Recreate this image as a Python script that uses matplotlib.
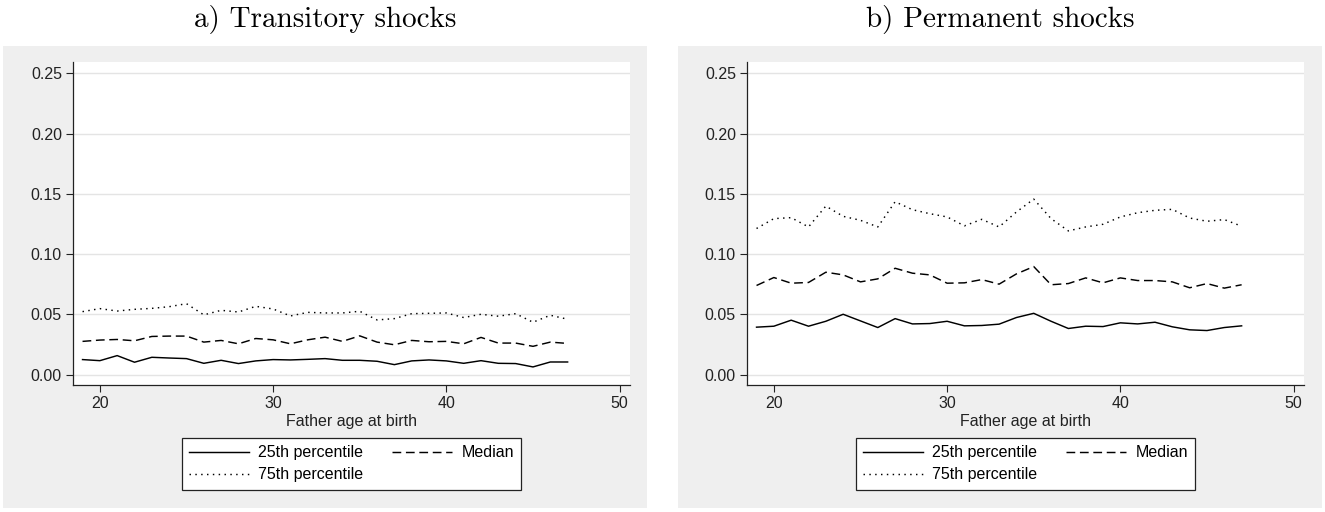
import numpy as np
import matplotlib
matplotlib.use("Agg")
import matplotlib.pyplot as plt
from matplotlib.patches import Rectangle

# %%
# percentiles of shock size by father's age at birth
ages = np.arange(19, 48)

trans_p25 = [0.0124, 0.0115, 0.0157, 0.0102, 0.0143, 0.0137, 0.0132, 0.0093, 0.0118, 0.0091,
             0.0113, 0.0124, 0.0121, 0.0126, 0.0132, 0.0118, 0.0118, 0.0110, 0.0082, 0.0113,
             0.0121, 0.0113, 0.0093, 0.0115, 0.0093, 0.0091, 0.0063, 0.0104, 0.0104]
trans_p50 = [0.0275, 0.0286, 0.0291, 0.0280, 0.0316, 0.0319, 0.0319, 0.0269, 0.0283, 0.0255,
             0.0299, 0.0288, 0.0255, 0.0288, 0.0310, 0.0275, 0.0321, 0.0269, 0.0247, 0.0283,
             0.0272, 0.0275, 0.0255, 0.0308, 0.0261, 0.0261, 0.0234, 0.0269, 0.0258]
trans_p75 = [0.0522, 0.0547, 0.0527, 0.0541, 0.0549, 0.0563, 0.0588, 0.0495, 0.0533, 0.0519,
             0.0566, 0.0544, 0.0486, 0.0516, 0.0511, 0.0511, 0.0525, 0.0453, 0.0464, 0.0505,
             0.0508, 0.0511, 0.0473, 0.0500, 0.0484, 0.0505, 0.0434, 0.0492, 0.0459]

perm_p25 = [0.0393, 0.0401, 0.0451, 0.0401, 0.0442, 0.0500, 0.0445, 0.0390, 0.0464, 0.0420,
            0.0423, 0.0442, 0.0404, 0.0407, 0.0418, 0.0473, 0.0508, 0.0442, 0.0382, 0.0401,
            0.0398, 0.0429, 0.0420, 0.0434, 0.0396, 0.0371, 0.0365, 0.0390, 0.0404]
perm_p50 = [0.0739, 0.0805, 0.0758, 0.0764, 0.0849, 0.0827, 0.0769, 0.0794, 0.0882, 0.0841,
            0.0827, 0.0758, 0.0761, 0.0788, 0.0750, 0.0835, 0.0896, 0.0745, 0.0755, 0.0802,
            0.0761, 0.0802, 0.0780, 0.0780, 0.0769, 0.0720, 0.0755, 0.0717, 0.0745]
perm_p75 = [0.1212, 0.1294, 0.1302, 0.1225, 0.1398, 0.1313, 0.1280, 0.1225, 0.1434, 0.1368,
            0.1335, 0.1308, 0.1234, 0.1288, 0.1225, 0.1349, 0.1456, 0.1294, 0.1192, 0.1225,
            0.1247, 0.1308, 0.1343, 0.1363, 0.1371, 0.1299, 0.1272, 0.1286, 0.1231]

titles = ['a) Transitory shocks', 'b) Permanent shocks']
series_labels = ['25th percentile', 'Median', '75th percentile']
xticks = [20, 30, 40, 50]
yticks = [0.00, 0.05, 0.10, 0.15, 0.20, 0.25]

# %%
W, H = 1325, 512
fig = plt.figure(figsize=(W / 100, H / 100), dpi=100)
fig.patch.set_facecolor('white')

def frac(x0, y0, x1, y1):
    # pixel box (top-left origin) -> figure fraction [l, b, w, h]
    return [x0 / W, 1 - y1 / H, (x1 - x0) / W, (y1 - y0) / H]

sans = 'Liberation Sans'
ink = '#222222'
fs = 11.5
styles = ['-', (0, (6, 3.2)), (0, (1, 3))]

panels = [
    dict(box=(3, 46, 647, 508), plot=(73, 62, 630, 385), data=(trans_p25, trans_p50, trans_p75)),
    dict(box=(678, 46, 1322, 508), plot=(747, 62, 1304, 385), data=(perm_p25, perm_p50, perm_p75)),
]

for title, p in zip(titles, panels):
    bx0, by0, bx1, by1 = p['box']
    l, b, w, h = frac(*p['box'])
    fig.patches.append(Rectangle((l, b), w, h, transform=fig.transFigure,
                                 facecolor='#efefef', edgecolor='none', zorder=-5))
    fig.text((bx0 + bx1) / 2 / W, 1 - 19 / H, title, ha='center', va='center',
             fontsize=21, family='cmr10')

    ax = fig.add_axes(frac(*p['plot']))
    ax.set_zorder(1)
    ax.set_facecolor('white')
    lines = []
    for vals, ls, lab in zip(p['data'], styles, series_labels):
        ln, = ax.plot(ages, vals, color='black', lw=1.05, linestyle=ls, label=lab)
        lines.append(ln)

    ax.set_xlim(18.45, 50.6)
    ax.set_ylim(-0.0087, 0.2594)
    ax.set_xticks(xticks)
    ax.set_yticks(yticks)
    ax.set_yticklabels(['%.2f' % v for v in yticks])
    ax.grid(axis='y', color='#e4e4e4', lw=1.0)
    ax.set_axisbelow(True)
    for s in ['top', 'right']:
        ax.spines[s].set_visible(False)
    for s in ['left', 'bottom']:
        ax.spines[s].set_color(ink)
        ax.spines[s].set_linewidth(0.9)
    ax.tick_params(direction='out', length=5, width=0.8, color=ink,
                   labelsize=fs, labelcolor=ink, pad=3)
    for t in ax.get_xticklabels() + ax.get_yticklabels():
        t.set_family(sans)
    ax.set_xlabel('Father age at birth', fontsize=fs, family=sans, color=ink, labelpad=2)

    cx = (p['plot'][0] + p['plot'][2]) / 2 / W
    leg = ax.legend([lines[0], lines[2], lines[1]],
                    [series_labels[0], series_labels[2], series_labels[1]],
                    ncol=2, loc='upper center', bbox_to_anchor=(cx, 1 - 438 / H),
                    bbox_transform=fig.transFigure, borderaxespad=0,
                    frameon=True, fancybox=False, framealpha=1, edgecolor=ink,
                    handlelength=3.75, columnspacing=1.8, handletextpad=0.6,
                    labelspacing=0.45, borderpad=0.45,
                    prop={'family': sans, 'size': fs})
    leg.get_frame().set_linewidth(0.9)

fig.savefig('out.png', dpi=100)
